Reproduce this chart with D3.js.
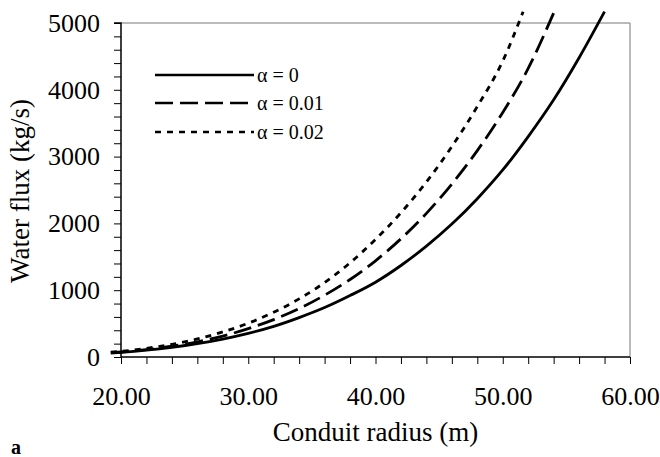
<!DOCTYPE html>
<html>
<head>
<meta charset="utf-8">
<script src="https://cdn.jsdelivr.net/npm/d3@7"></script>
<style>
  html, body { margin: 0; padding: 0; background: #fff; }
  svg { display: block; }
  text { font-family: "Liberation Serif", "Times New Roman", serif; fill: #000; }
</style>
</head>
<body>
<svg id="chart" width="660" height="457"></svg>
<script>
// ---- data ----
const radiusA0   = [19.2, 20, 22, 24, 26, 28, 30, 32, 34, 36, 38, 40, 42, 44, 46, 48, 50, 52, 54, 56, 58];
const fluxA0     = [60, 70, 102, 145, 200, 269, 354, 459, 590, 740, 920, 1120, 1370, 1660, 1990, 2370, 2800, 3300, 3850, 4480, 5170];
const radiusA001 = [19.2, 20, 22, 24, 26, 28, 30, 32, 34, 36, 38, 40, 42, 44, 46, 48, 50, 52, 54];
const fluxA001   = [64, 75, 112, 162, 228, 313, 425, 560, 725, 925, 1160, 1440, 1770, 2150, 2590, 3090, 3660, 4320, 5150];
const radiusA002 = [19.2, 20, 22, 24, 26, 28, 30, 32, 34, 36, 38, 40, 42, 44, 46, 48, 50, 51.6];
const fluxA002   = [72, 85, 130, 190, 270, 375, 505, 670, 870, 1115, 1410, 1760, 2160, 2620, 3150, 3750, 4430, 5170];
const seriesNames = ["\u03b1 = 0", "\u03b1 = 0.01", "\u03b1 = 0.02"];
const xMajorTicks = [20, 30, 40, 50, 60];
const yMajorTicks = [0, 1000, 2000, 3000, 4000, 5000];

const series = [
  { name: seriesNames[0], r: radiusA0,   q: fluxA0,   dash: null },
  { name: seriesNames[1], r: radiusA001, q: fluxA001, dash: "18,7" },
  { name: seriesNames[2], r: radiusA002, q: fluxA002, dash: "6,6" }
];

// ---- layout ----
const svg = d3.select("#chart");
const L = 121, R = 630, T = 23, B = 357;
const x = d3.scaleLinear().domain([20, 60]).range([L, R]);
const y = d3.scaleLinear().domain([0, 5000]).range([B, T]);

// frame (top/right lighter)
svg.append("line").attr("x1", L).attr("x2", R).attr("y1", T).attr("y2", T)
  .attr("stroke", "#777").attr("stroke-width", 1);
svg.append("line").attr("x1", R).attr("x2", R).attr("y1", T).attr("y2", B)
  .attr("stroke", "#777").attr("stroke-width", 1);

// y axis: minor ticks every 200, labels every 1000
const yMinor = d3.range(0, 5001, 200);
const yAx = svg.append("g").attr("transform", `translate(${L},0)`)
  .call(d3.axisLeft(y).tickValues(yMinor).tickSize(7).tickFormat(""));
yAx.select(".domain").attr("stroke-width", 1.5).attr("d", `M-7,${T}H0V${B}`);
yAx.selectAll(".tick line").attr("stroke-width", 1);
const yLab = svg.append("g").attr("transform", `translate(${L},0)`)
  .call(d3.axisLeft(y).tickValues(yMajorTicks).tickSize(0).tickPadding(21).tickFormat(d3.format("d")));
yLab.select(".domain").remove();
yLab.selectAll("text").style("font-family", "Liberation Serif, serif").style("font-size", "26px").attr("fill", "#000");

// x axis: minor ticks every 2, labels every 10
const xMinor = d3.range(20, 60.01, 2);
const xAx = svg.append("g").attr("transform", `translate(0,${B})`)
  .call(d3.axisBottom(x).tickValues(xMinor).tickSize(7).tickFormat(""));
xAx.select(".domain").attr("stroke-width", 1.5).attr("d", `M${L},0H${R}`);
xAx.selectAll(".tick line").attr("stroke-width", 1);
const xLab = svg.append("g").attr("transform", `translate(0,${B})`)
  .call(d3.axisBottom(x).tickValues(xMajorTicks).tickSize(0).tickPadding(30).tickFormat(d3.format(".2f")));
xLab.select(".domain").remove();
xLab.selectAll("text").style("font-family", "Liberation Serif, serif").style("font-size", "26px").attr("fill", "#000");

// curves
const line = d3.line().x(d => x(d[0])).y(d => y(d[1])).curve(d3.curveMonotoneX);
series.forEach(s => {
  const pts = s.r.map((r, i) => [r, s.q[i]]);
  svg.append("path").datum(pts).attr("d", line)
    .attr("fill", "none").attr("stroke", "#000").attr("stroke-width", 2.8)
    .attr("stroke-dasharray", s.dash);
});

// legend
const legY = [75, 103, 132];
series.forEach((s, i) => {
  svg.append("line").attr("x1", 155).attr("x2", 254).attr("y1", legY[i]).attr("y2", legY[i])
    .attr("stroke", "#000").attr("stroke-width", 2.6).attr("stroke-dasharray", s.dash);
  svg.append("text").attr("x", 257).attr("y", legY[i] + 7)
    .style("font-size", "20px").text(s.name);
});

// axis titles
svg.append("text").attr("transform", `translate(29,191) rotate(-90)`)
  .attr("text-anchor", "middle").style("font-size", "27px").text("Water flux (kg/s)");
svg.append("text").attr("x", (L + R) / 2).attr("y", 441)
  .attr("text-anchor", "middle").style("font-size", "27px").text("Conduit radius (m)");
svg.append("text").attr("x", 11).attr("y", 454)
  .style("font-size", "20px").style("font-weight", "bold").text("a");
</script>
</body>
</html>
